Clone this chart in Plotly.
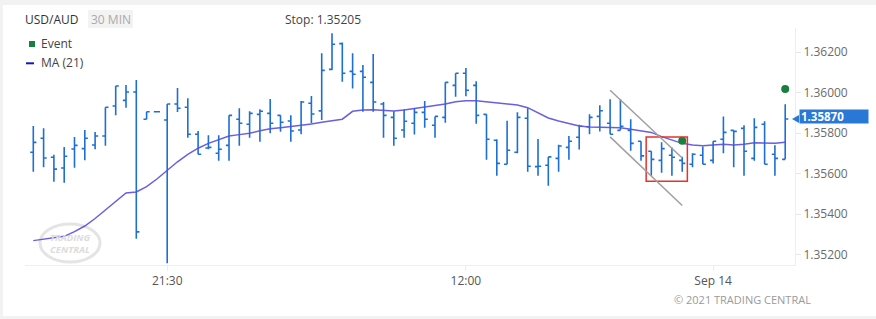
import pandas as pd
import plotly.graph_objects as go

# ---------------- data ----------------
times = pd.date_range("2021-09-12 15:00", periods=74, freq="30min")

opens = [1.35706, 1.35775, 1.35681, 1.35628, 1.35722, 1.35724, 1.35742, 1.35786, 1.35934, 1.35962,
         1.36003, 1.35869, 1.35906, 1.35865, 1.35944, 1.35928, 1.35795, 1.35727, 1.35701, 1.35740,
         1.35869, 1.35844, 1.35893, 1.35898, 1.35888, 1.35860, 1.35816, 1.35948, 1.35910, 1.36115,
         1.36242, 1.36105, 1.36105, 1.36051, 1.35944, 1.35878, 1.35816, 1.35849, 1.35903, 1.35839,
         1.35878, 1.36036, 1.36096, 1.36036, 1.35893, 1.35765, 1.35647, 1.35706, 1.35874, 1.35635,
         1.35642, 1.35676, 1.35730, 1.35780, 1.35832, 1.35883, 1.35849, 1.35814, 1.35814, 1.35760,
         1.35711, 1.35666, 1.35691, 1.35666, 1.35647, 1.35691, 1.35666, 1.35770, 1.35814, 1.35824,
         1.35676, 1.35844, 1.35696, 1.35671]

highs = [1.35836, 1.35824, 1.35694, 1.35732, 1.35781, 1.35816, 1.35806, 1.35928, 1.36033, 1.36038,
         1.36062, 1.35906, 1.35906, 1.35944, 1.36023, 1.35972, 1.35811, 1.35790, 1.35790, 1.35888,
         1.35923, 1.35908, 1.35918, 1.35969, 1.35888, 1.35888, 1.35959, 1.35984, 1.36194, 1.36293,
         1.36247, 1.36194, 1.36137, 1.36191, 1.35954, 1.35908, 1.35918, 1.35924, 1.35959, 1.35883,
         1.36051, 1.36096, 1.36122, 1.36056, 1.35893, 1.35770, 1.35862, 1.35903, 1.35923, 1.35771,
         1.35683, 1.35743, 1.35786, 1.35842, 1.35893, 1.35938, 1.35967, 1.35969, 1.35869, 1.35760,
         1.35711, 1.35755, 1.35730, 1.35684, 1.35701, 1.35735, 1.35760, 1.35883, 1.35814, 1.35839,
         1.35874, 1.35859, 1.35740, 1.35943]

lows = [1.35610, 1.35632, 1.35561, 1.35556, 1.35630, 1.35666, 1.35721, 1.35738, 1.35888, 1.35926,
        1.35279, 1.35869, 1.35906, 1.35158, 1.35905, 1.35778, 1.35696, 1.35721, 1.35664, 1.35664,
        1.35738, 1.35778, 1.35758, 1.35800, 1.35807, 1.35758, 1.35795, 1.35849, 1.35865, 1.36112,
        1.36054, 1.36020, 1.35906, 1.35906, 1.35778, 1.35738, 1.35778, 1.35793, 1.35827, 1.35778,
        1.35852, 1.35980, 1.35982, 1.35847, 1.35669, 1.35590, 1.35647, 1.35701, 1.35610, 1.35590,
        1.35541, 1.35610, 1.35669, 1.35719, 1.35795, 1.35809, 1.35795, 1.35814, 1.35714, 1.35664,
        1.35590, 1.35605, 1.35590, 1.35610, 1.35632, 1.35647, 1.35651, 1.35701, 1.35632, 1.35590,
        1.35664, 1.35647, 1.35590, 1.35671]

closes = [1.35755, 1.35678, 1.35623, 1.35686, 1.35740, 1.35775, 1.35786, 1.35928, 1.36033, 1.36003,
          1.35313, 1.35906, 1.35906, 1.35944, 1.35923, 1.35795, 1.35696, 1.35730, 1.35721, 1.35888,
          1.35849, 1.35898, 1.35908, 1.35849, 1.35854, 1.35811, 1.35954, 1.35895, 1.36110, 1.36239,
          1.36096, 1.36091, 1.36076, 1.35954, 1.35888, 1.35775, 1.35859, 1.35903, 1.35869, 1.35883,
          1.36051, 1.36096, 1.36012, 1.35888, 1.35770, 1.35651, 1.35716, 1.35878, 1.35637, 1.35637,
          1.35683, 1.35737, 1.35760, 1.35834, 1.35878, 1.35911, 1.35795, 1.35834, 1.35750, 1.35688,
          1.35671, 1.35724, 1.35681, 1.35651, 1.35696, 1.35647, 1.35760, 1.35804, 1.35809, 1.35711,
          1.35829, 1.35647, 1.35676, 1.35870]

ma21 = [1.35270, 1.35276, 1.35283, 1.35291, 1.35314, 1.35342, 1.35379, 1.35421, 1.35467, 1.35505,
        1.35510, 1.35536, 1.35574, 1.35618, 1.35659, 1.35696, 1.35726, 1.35750, 1.35770, 1.35786,
        1.35793, 1.35800, 1.35812, 1.35822, 1.35827, 1.35832, 1.35840, 1.35845, 1.35854, 1.35862,
        1.35869, 1.35908, 1.35914, 1.35916, 1.35914, 1.35910, 1.35914, 1.35921, 1.35928, 1.35936,
        1.35944, 1.35955, 1.35960, 1.35960, 1.35955, 1.35948, 1.35943, 1.35939, 1.35926, 1.35900,
        1.35875, 1.35860, 1.35849, 1.35836, 1.35831, 1.35829, 1.35829, 1.35827, 1.35819, 1.35812,
        1.35804, 1.35783, 1.35766, 1.35750, 1.35742, 1.35738, 1.35742, 1.35745, 1.35742, 1.35745,
        1.35753, 1.35753, 1.35750, 1.35755]

event_idx = [63, 73]
event_prices = [1.35763, 1.36018]

# chart pattern (red box) and channel (grey lines)
pattern_first, pattern_last = 60, 63
pattern_top, pattern_bottom = 1.35781, 1.35563
channel_start, channel_end = 56, 63
channel_upper = [1.36012, 1.35678]
channel_lower = [1.35782, 1.35443]

tick_idx = [13, 42, 66]
tick_text = ["21:30", "12:00", "Sep 14"]
y_ticks = [1.352, 1.354, 1.356, 1.358, 1.360, 1.362]

pair = "USD/AUD"
period = "30 MIN"
stop_text = "Stop: 1.35205"
last_price = closes[-1]

# ---------------- style / layout helpers ----------------
BAR = "#1e6fd2"
GREEN = "#16803c"
FONT = "Open Sans"
W, H = 876, 319
L, R, T, B = 25, 795, 28, 265
half = pd.Timedelta(minutes=15)
step = pd.Timedelta(minutes=30)


def px(x):
    return (x - L) / (R - L)


def py(y):
    return (B - y) / (B - T)


fig = go.Figure()
fig.add_trace(go.Ohlc(
    x=times, open=opens, high=highs, low=lows, close=closes,
    increasing=dict(line=dict(color=BAR, width=1.6)),
    decreasing=dict(line=dict(color=BAR, width=1.6)),
    tickwidth=0.3, showlegend=False, hoverinfo="skip"))
fig.add_trace(go.Scatter(
    x=times, y=ma21, mode="lines", line=dict(color="rgba(88,78,222,0.9)", width=1.5),
    showlegend=False, hoverinfo="skip"))
fig.add_trace(go.Scatter(
    x=[times[i] for i in event_idx], y=event_prices, mode="markers",
    marker=dict(color=GREEN, size=8), showlegend=False, cliponaxis=False, hoverinfo="skip"))

shapes = []
# page strips
for x0, y0, x1, y1 in [(0, 0, W, 5), (0, 0, 3, H), (0, 316, W, H)]:
    shapes.append(dict(type="rect", xref="paper", yref="paper", x0=px(x0), x1=px(x1),
                       y0=py(y1), y1=py(y0), fillcolor="#f2f2f2", line=dict(width=0), layer="below"))
# watermark
shapes.append(dict(type="circle", xref="paper", yref="paper", x0=px(40), x1=px(100),
                   y0=py(262), y1=py(224), line=dict(color="#e4e4e4", width=3), layer="below"))
# period box
shapes.append(dict(type="rect", xref="paper", yref="paper", x0=px(88), x1=px(133),
                   y0=py(28), y1=py(10), fillcolor="#f3f3f3", line=dict(width=0), layer="below"))
# legend symbols
shapes.append(dict(type="rect", xref="paper", yref="paper", x0=px(29), x1=px(35),
                   y0=py(47), y1=py(41), fillcolor=GREEN, line=dict(width=0)))
shapes.append(dict(type="line", xref="paper", yref="paper", x0=px(26), x1=px(34),
                   y0=py(63.3), y1=py(63.3), line=dict(color="#1515c8", width=2)))
# pattern box
shapes.append(dict(type="rect", xref="x", yref="y",
                   x0=times[pattern_first] - half, x1=times[pattern_last] + half,
                   y0=pattern_bottom, y1=pattern_top, line=dict(color="#e8312b", width=1.5)))
# channel lines
for ys in (channel_upper, channel_lower):
    shapes.append(dict(type="line", xref="x", yref="y",
                       x0=times[channel_start], x1=times[channel_end], y0=ys[0], y1=ys[1],
                       line=dict(color="#a0a0a0", width=1.5)))
# price marker arrow
dy = 4 / 20267
shapes.append(dict(type="path", xref="paper", yref="y",
                   path=f"M {px(792)},{last_price} L {px(799)},{last_price + dy} L {px(799)},{last_price - dy} Z",
                   fillcolor="#2a78d6", line=dict(width=0)))

annotations = [
    dict(text=pair, x=px(23), y=py(19), xanchor="left", yanchor="middle",
         font=dict(size=12, color="#333333")),
    dict(text=period, x=px(110.5), y=py(19), xanchor="center", yanchor="middle",
         font=dict(size=12, color="#aaaaaa")),
    dict(text=stop_text, x=px(283), y=py(19), xanchor="left", yanchor="middle",
         font=dict(size=12, color="#444444")),
    dict(text="Event", x=px(39), y=py(44), xanchor="left", yanchor="middle",
         font=dict(size=12, color="#444444")),
    dict(text="MA (21)", x=px(39), y=py(63), xanchor="left", yanchor="middle",
         font=dict(size=12, color="#444444")),
    dict(text="© 2021 TRADING CENTRAL", x=px(813), y=py(299), xanchor="right", yanchor="middle",
         font=dict(size=11, color="#9a9a9a")),
    dict(text="<b><i>TRADING<br>CENTRAL</i></b>", x=px(70), y=py(243), xanchor="center",
         yanchor="middle", font=dict(size=9.5, color="#dcdcdc")),
    dict(text=f"<b>{last_price:.5f}</b>", x=px(799), y=py(117),
         xanchor="left", yanchor="middle", bgcolor="#2a78d6", width=66, height=11,
         align="left", borderpad=1, font=dict(size=11.5, color="white")),
]
for a in annotations:
    a.setdefault("xref", "paper")
    a.setdefault("yref", "paper")
    a["showarrow"] = False

fig.update_layout(
    width=W, height=H,
    margin=dict(l=L, r=W - R, t=T, b=H - B),
    paper_bgcolor="white", plot_bgcolor="white",
    font=dict(family=FONT, size=12, color="#555555"),
    showlegend=False,
    shapes=shapes, annotations=annotations,
    xaxis=dict(
        range=[times[0] - 0.806 * step, times[-1] + 0.95 * step],
        tickvals=[times[i] for i in tick_idx], ticktext=tick_text,
        showgrid=False, zeroline=False, showline=True, linecolor="#eeeeee",
        ticks="outside", ticklen=5, tickcolor="#eeeeee",
        tickfont=dict(size=12, color="#555555"),
        rangeslider=dict(visible=False), fixedrange=True),
    yaxis=dict(
        side="right", range=[1.351497, 1.363191],
        tickvals=y_ticks, tickformat=".5f",
        showgrid=False, zeroline=False, showline=True, linecolor="#eeeeee",
        ticks="outside", ticklen=5, tickcolor="#e6e6e6",
        tickfont=dict(size=12, color="#6b6b6b"), fixedrange=True),
)

fig.write_html("out.html")
